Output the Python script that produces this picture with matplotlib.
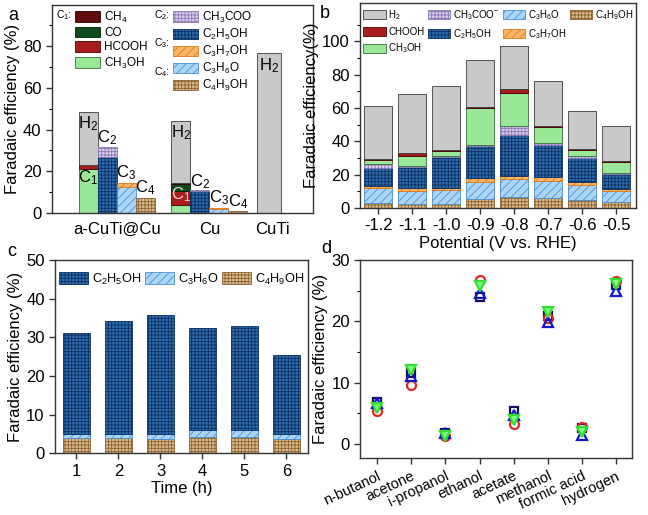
import numpy as np
import matplotlib
matplotlib.use("Agg")
import matplotlib.pyplot as plt
from matplotlib.patches import Patch

plt.rcParams['font.family'] = ['Liberation Sans', 'DejaVu Sans']
plt.rcParams['mathtext.default'] = 'regular'
plt.rcParams['hatch.linewidth'] = 0.6
plt.rcParams['axes.linewidth'] = 1.0
plt.rcParams['axes.edgecolor'] = '#333333'

# ---------------- data ----------------
# panel a: catalysts
cat_names = ['a-CuTi@Cu', 'Cu', 'CuTi']
a_CH3OH = [21.0, 3.8]
a_HCOOH = [2.0, 7.0]
a_CO = [0.0, 3.0]
a_CH4 = [0.0, 0.6]
a_H2 = [25.5, 29.6, 76.5]
a_C2H5OH = [26.8, 10.5]
a_CH3COO = [4.9, 0.5]
a_C3H6O = [12.4, 2.2]
a_C3H7OH = [2.0, 0.4]
a_C4H9OH = [7.5, 1.0]

# panel b: potential series
potentials = ['-1.2', '-1.1', '-1.0', '-0.9', '-0.8', '-0.7', '-0.6', '-0.5']
b_C4H9OH = [3.0, 2.5, 2.5, 5.5, 6.5, 6.0, 5.0, 3.5]
b_C3H6O = [9.0, 8.0, 8.5, 10.0, 11.0, 10.5, 9.0, 6.5]
b_C3H7OH = [1.0, 1.5, 1.0, 2.5, 2.0, 2.0, 1.5, 1.5]
b_C2H5OH = [11.0, 12.5, 18.5, 19.5, 24.5, 19.5, 14.5, 9.0]
b_CH3COO = [2.5, 0.5, 0.5, 0.5, 5.0, 1.0, 1.0, 0.5]
b_CH3OH = [2.5, 6.5, 3.0, 22.0, 20.0, 9.5, 4.0, 6.5]
b_CHOOH = [0.5, 1.5, 1.0, 0.5, 2.5, 0.5, 0.5, 0.5]
b_H2 = [32.0, 35.5, 38.0, 28.5, 25.5, 27.0, 22.5, 21.5]

# panel c: stability
hours = [1, 2, 3, 4, 5, 6]
c_C4H9OH = [3.9, 3.9, 3.7, 4.1, 4.2, 3.8]
c_C3H6O = [1.1, 1.0, 1.3, 1.8, 1.7, 1.2]
c_C2H5OH = [26.0, 29.4, 30.9, 26.4, 27.1, 20.4]

# panel d: repeated runs
products = ['n-butanol', 'acetone', 'i-propanol', 'ethanol', 'acetate',
            'methanol', 'formic acid', 'hydrogen']
run1 = [6.9, 11.6, 1.8, 23.9, 5.3, 20.8, 2.5, 26.0]
run2 = [5.3, 9.6, 1.3, 26.8, 3.3, 20.5, 2.7, 26.6]
run3 = [6.7, 11.0, 1.7, 24.6, 4.7, 19.9, 1.5, 25.0]
run4 = [5.9, 12.1, 1.2, 25.7, 3.9, 21.6, 2.0, 26.1]

# ---------------- styles ----------------
styles = {
    'H2': dict(fc='#c9c9c9', ec='#3a3a3a', hatch=None),
    'CH4': dict(fc='#5e0c0c', ec='#2a0000', hatch=None),
    'CO': dict(fc='#0e4a1c', ec='#002000', hatch=None),
    'HCOOH': dict(fc='#a81c1c', ec='#4a0000', hatch=None),
    'CH3OH': dict(fc='#98e898', ec='#3c6c3c', hatch=None),
    'CH3COO': dict(fc='#dccdee', ec='#8a78b4', hatch='+++++'),
    'C2H5OH': dict(fc='#2c6db2', ec='#0c2f5e', hatch='+++++'),
    'C3H7OH': dict(fc='#f9b566', ec='#e07818', hatch='////'),
    'C3H6O': dict(fc='#acd6f8', ec='#4a8ed0', hatch='////'),
    'C4H9OH': dict(fc='#dcbc8c', ec='#8a6030', hatch='+++++'),
}
labels = {
    'H2': 'H$_2$', 'CH4': 'CH$_4$', 'CO': 'CO', 'HCOOH': 'HCOOH',
    'CH3OH': 'CH$_3$OH', 'CH3COO': 'CH$_3$COO', 'C2H5OH': 'C$_2$H$_5$OH',
    'C3H7OH': 'C$_3$H$_7$OH', 'C3H6O': 'C$_3$H$_6$O', 'C4H9OH': 'C$_4$H$_9$OH',
}


def handle(name):
    s = styles[name]
    return Patch(facecolor=s['fc'], edgecolor=s['ec'], hatch=s['hatch'], lw=0.6)


def blank():
    return Patch(visible=False)


def stack(ax, x, parts, width):
    x = np.asarray(x, float)
    bottom = np.zeros(len(x))
    for name, vals in parts:
        vals = np.asarray(vals, float)
        m = vals > 0
        s = styles[name]
        ax.bar(x[m], vals[m], width, bottom=bottom[m], color=s['fc'],
               edgecolor=s['ec'], hatch=s['hatch'], lw=0.6)
        bottom = bottom + vals
    return bottom


def style_axis(ax):
    ax.tick_params(direction='out', labelsize=12, width=1, length=4, color='#333333')
    ax.tick_params(which='minor', direction='out', width=0.8, length=2.5)


fig = plt.figure(figsize=(6.48, 5.15), dpi=100)

# ---------------- panel a ----------------
axa = fig.add_axes([0.080, 0.586, 0.403, 0.404])
centers = np.array([3.42, 8.29])
off = np.array([-1.5, -0.5, 0.5, 1.5])
x1, x2, x3, x4 = [centers + o for o in off]
top1 = stack(axa, x1, [('CH3OH', a_CH3OH), ('HCOOH', a_HCOOH), ('CO', a_CO),
                       ('CH4', a_CH4)], 1.0)
top1h = top1 + np.array(a_H2[:2])
s = styles['H2']
axa.bar(x1, a_H2[:2], 1.0, bottom=top1, color=s['fc'], edgecolor=s['ec'], lw=0.6)
top2 = stack(axa, x2, [('C2H5OH', a_C2H5OH), ('CH3COO', a_CH3COO)], 1.0)
top3 = stack(axa, x3, [('C3H6O', a_C3H6O), ('C3H7OH', a_C3H7OH)], 1.0)
top4 = stack(axa, x4, [('C4H9OH', a_C4H9OH)], 1.0)
cuti_x = 11.42
axa.bar([cuti_x], [a_H2[2]], 1.26, color=s['fc'], edgecolor=s['ec'], lw=0.6)

fs = 12
for i in range(2):
    axa.text(x1[i], top1h[i] - 5.5, 'H$_2$', ha='center', va='center', fontsize=fs)
    axa.text(x2[i], top2[i] + 4.3, 'C$_2$', ha='center', va='center', fontsize=fs)
    axa.text(x3[i], top3[i] + 4.8, 'C$_3$', ha='center', va='center', fontsize=fs)
    axa.text(x4[i], top4[i] + 4.6, 'C$_4$', ha='center', va='center', fontsize=fs)
axa.text(x1[0], a_CH3OH[0] - 4, 'C$_1$', ha='center', va='center', fontsize=fs)
axa.text(x1[1], top1[1] - 5.5, 'C$_1$', ha='center', va='center', fontsize=fs,
         color='#ffd8d8')
axa.text(cuti_x, a_H2[2] - 6, 'H$_2$', ha='center', va='center', fontsize=fs)

axa.set_xlim(0, 13.74)
axa.set_ylim(0, 99.5)
axa.set_yticks([0, 20, 40, 60, 80])
axa.set_yticks(np.arange(10, 100, 20), minor=True)
axa.set_xticks([3.42, 8.29, 11.6])
axa.set_xticklabels(cat_names)
style_axis(axa)
axa.tick_params(axis='x', length=0, pad=6)
axa.set_ylabel('Faradaic efficiency (%)', fontsize=12, labelpad=2)

leg_kw = dict(loc='upper left', frameon=False, fontsize=8.5, handlelength=2.1,
              handleheight=1.0, labelspacing=0.17, handletextpad=0.4,
              borderaxespad=0.0, borderpad=0.3)
names1 = ['CH4', 'CO', 'HCOOH', 'CH3OH']
names2 = ['CH3COO', 'C2H5OH', 'C3H7OH', 'C3H6O', 'C4H9OH']
legA1 = axa.legend([handle(n) for n in names1], [labels[n] for n in names1],
                   bbox_to_anchor=(0.075, 0.995), **leg_kw)
axa.add_artist(legA1)
axa.legend([handle(n) for n in names2], [labels[n] for n in names2],
           bbox_to_anchor=(0.45, 0.995), **leg_kw)
for txt, xx, yy in [('C$_1$:', 0.015, 0.952), ('C$_2$:', 0.39, 0.952),
                    ('C$_3$:', 0.39, 0.817), ('C$_4$:', 0.39, 0.68)]:
    axa.text(xx, yy, txt, transform=axa.transAxes, fontsize=7.5, va='center')

# ---------------- panel b ----------------
axb = fig.add_axes([0.556, 0.596, 0.426, 0.398])
xb = np.arange(len(potentials))
stack(axb, xb, [('C4H9OH', b_C4H9OH), ('C3H6O', b_C3H6O), ('C3H7OH', b_C3H7OH),
                ('C2H5OH', b_C2H5OH), ('CH3COO', b_CH3COO), ('CH3OH', b_CH3OH),
                ('HCOOH', b_CHOOH), ('H2', b_H2)], 0.82)
axb.set_xlim(-0.53, 7.59)
axb.set_ylim(0, 123)
axb.set_yticks([0, 20, 40, 60, 80, 100])
axb.set_yticks(np.arange(10, 120, 20), minor=True)
axb.set_xticks(xb)
axb.set_xticklabels(potentials)
style_axis(axb)
axb.set_xlabel('Potential (V vs. RHE)', fontsize=12, labelpad=2)
axb.set_ylabel('Faradaic efficiency(%)', fontsize=12, labelpad=2)
hb = [handle('H2'), handle('HCOOH'), handle('CH3OH'),
      handle('CH3COO'), handle('C2H5OH'), blank(),
      handle('C3H6O'), handle('C3H7OH'), blank(),
      handle('C4H9OH'), blank(), blank()]
lb = ['H$_2$', 'CHOOH', 'CH$_3$OH',
      'CH$_3$COO$^{-}$', 'C$_2$H$_5$OH', '',
      'C$_3$H$_6$O', 'C$_3$H$_7$OH', '',
      'C$_4$H$_9$OH', '', '']
axb.legend(hb, lb, ncol=4, loc='upper left', bbox_to_anchor=(0.0, 0.99),
           frameon=False, fontsize=7, handlelength=2.3, handleheight=1.1,
           labelspacing=0.5, handletextpad=0.3, columnspacing=0.35,
           borderaxespad=0.0, borderpad=0.3)

# ---------------- panel c ----------------
axc = fig.add_axes([0.085, 0.120, 0.390, 0.375])
stack(axc, hours, [('C4H9OH', c_C4H9OH), ('C3H6O', c_C3H6O),
                   ('C2H5OH', c_C2H5OH)], 0.64)
axc.set_xlim(0.49, 6.51)
axc.set_ylim(0, 50)
axc.set_yticks([0, 10, 20, 30, 40, 50])
axc.set_xticks(hours)
style_axis(axc)
axc.set_xlabel('Time (h)', fontsize=12, labelpad=2)
axc.set_ylabel('Faradaic efficiency (%)', fontsize=12, labelpad=2)
axc.legend([handle('C2H5OH'), handle('C3H6O'), handle('C4H9OH')],
           [labels['C2H5OH'], labels['C3H6O'], labels['C4H9OH']],
           ncol=3, loc='upper left', bbox_to_anchor=(0.0, 0.96), frameon=False,
           fontsize=9.2, handlelength=2.3, handleheight=1.1,
           handletextpad=0.3, columnspacing=0.25, borderaxespad=0.0, borderpad=0.3)

# ---------------- panel d ----------------
axd = fig.add_axes([0.556, 0.111, 0.419, 0.384])
xd = np.arange(len(products))
axd.plot(xd, run1, ls='none', marker='s', ms=6, mfc='none', mec='#101060', mew=1.6)
axd.plot(xd, run2, ls='none', marker='o', ms=6.5, mfc='none', mec='#e02828', mew=1.6)
axd.plot(xd, run3, ls='none', marker='^', ms=7, mfc='none', mec='#1414d0', mew=1.6)
axd.plot(xd, run4, ls='none', marker='v', ms=7, mfc='#80ff80', mec='#30e030', mew=1.6)
axd.set_xlim(-0.5, 7.47)
axd.set_ylim(-2.3, 30)
axd.set_yticks([0, 10, 20, 30])
axd.set_yticks([5, 15, 25], minor=True)
axd.set_xticks(xd)
axd.set_xticklabels(products, rotation=25, ha='right', rotation_mode='anchor')
style_axis(axd)
axd.tick_params(axis='x', labelsize=10.5, pad=4)
axd.set_ylabel('Faradaic efficiency (%)', fontsize=12, labelpad=2)

# panel letters
for t, xx, yy in [('a', 13, 15), ('b', 325, 13), ('c', 12, 252), ('d', 326, 249)]:
    fig.text(xx / 648, 1 - yy / 515, t, fontsize=13, ha='center', va='center')

fig.savefig('out.png', dpi=100)
